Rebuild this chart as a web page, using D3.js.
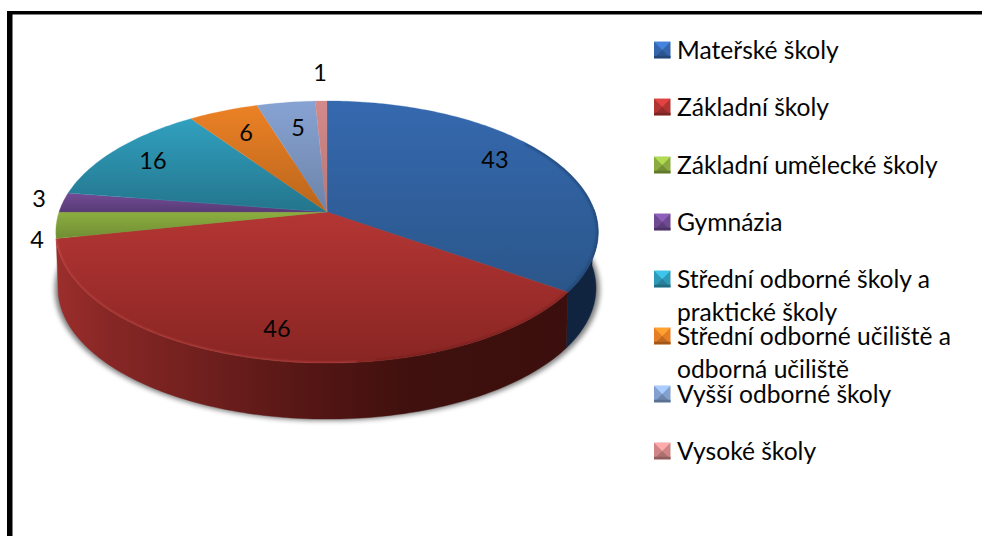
<!DOCTYPE html>
<html><head><meta charset="utf-8">
<script src="https://cdn.jsdelivr.net/npm/d3@7"></script>
<style>html,body{margin:0;padding:0;background:#fff;overflow:hidden}svg{display:block}
text{font-family:Lato,"Noto Sans",sans-serif;fill:#050505}</style></head>
<body><svg id="c" width="982" height="536"></svg>
<script>
const categories=["Mateřské školy","Základní školy","Základní umělecké školy","Gymnázia","Střední odborné školy a praktické školy","Střední odborné učiliště a odborná učiliště","Vyšší odborné školy","Vysoké školy"];
const values=[43,46,4,3,16,6,5,1];
const legendLines=[["Mateřské školy"],["Základní školy"],["Základní umělecké školy"],["Gymnázia"],["Střední odborné školy a","praktické školy"],["Střední odborné učiliště a","odborná učiliště"],["Vyšší odborné školy"],["Vysoké školy"]];
const colours=["#3566ac","#b13432","#8aab3f","#6f4a92","#2f9ab8","#e67e25","#84a0cf","#cf8585"];

const W=982,H=536;
const svg=d3.select("#c");
const defs=svg.append("defs");
// frame
svg.append("rect").attr("x",7).attr("y",11).attr("width",W).attr("height",3.5).attr("fill","#000");
svg.append("rect").attr("x",7).attr("y",11).attr("width",5.5).attr("height",H).attr("fill","#000");

// perspective disc
const cx=327,cy=212,a=268,b=128,k=-0.153,depth=56;
function proj(t,r=1){const u=r*Math.sin(t),v=-r*Math.cos(t),w=1+k*v;return [cx+a*u/w,cy+b*v/w];}
const arcs=d3.pie().sort(null).value(d=>d)(values);
const step=Math.PI/180;
function rim(s,e){const n=Math.max(2,Math.ceil((e-s)/step));return d3.range(n+1).map(i=>proj(s+(e-s)*i/n));}
const line=d3.line();

// shadow of the body
defs.append("filter").attr("id","sh").attr("x","-10%").attr("y","-10%").attr("width","120%").attr("height","120%")
 .append("feGaussianBlur").attr("stdDeviation",2.5);
const all=rim(0,2*Math.PI);
svg.append("path").attr("d",line(all.map(p=>[p[0]+(p[0]<cx?-1:1.5),p[1]+depth+1.5]))+"Z").attr("fill","#000").attr("opacity",.5).attr("filter","url(#sh)");

// side walls
function wallGrad(id,stops,x1,x2){
 const g=defs.append("linearGradient").attr("id",id).attr("gradientUnits","userSpaceOnUse").attr("x1",x1).attr("x2",x2).attr("y1",0).attr("y2",0);
 stops.forEach(s=>g.append("stop").attr("offset",s[0]).attr("stop-color",s[1]));
}
wallGrad("wRed",[[0,"#9b2e2c"],[.1,"#872725"],[.3,"#6e1f1d"],[.5,"#541614"],[.7,"#3f100e"],[1,"#3b0f0d"]],57,566);
wallGrad("wBlue",[[0,"#10233f"],[.8,"#10233f"],[1,"#152a4a"]],563,599);
function wall(s,e,fill){
 const top=rim(s,e),bot=top.slice().reverse().map(p=>[cx+(p[0]-cx)*.992,p[1]+depth]);
 svg.append("path").attr("d",line(top.concat(bot))+"Z").attr("fill",fill).attr("stroke",fill).attr("stroke-width",.4);
}
wall(arcs[0].startAngle+Math.PI/2-0.02,arcs[0].endAngle,"url(#wBlue)");
wall(arcs[1].startAngle,arcs[1].endAngle,"url(#wRed)");

// top face
const faceStops=[
 ["#3569af","#2a5588"],["#b43634","#882523"],["#8cae40","#6f8c33"],["#734c97","#583a75"],
 ["#31a0bf","#23758c"],["#ec8125","#b9651c"],["#87a3d3","#6d84a8"],["#d38a8a","#b87575"]];
const faceY=[[101,300],[212,363],[212,240],[193,212],[119,212],[105,212],[101,212],[101,212]];
arcs.forEach((d,i)=>{
 const g=defs.append("linearGradient").attr("id","f"+i).attr("gradientUnits","userSpaceOnUse").attr("x1",0).attr("x2",0).attr("y1",faceY[i][0]).attr("y2",faceY[i][1]);
 g.append("stop").attr("offset",0).attr("stop-color",faceStops[i][0]);
 g.append("stop").attr("offset",1).attr("stop-color",faceStops[i][1]);
 svg.append("path").attr("d",line([[cx,cy]].concat(rim(d.startAngle,d.endAngle)))+"Z")
  .attr("fill",`url(#f${i})`).attr("stroke",faceStops[i][0]).attr("stroke-width",.3);
});
// rim bevel
defs.append("filter").attr("id","bl").append("feGaussianBlur").attr("stdDeviation",1);
const clip=defs.append("clipPath").attr("id","fc");
clip.append("path").attr("d",line(all)+"Z");
const bevel=svg.append("g").attr("clip-path","url(#fc)");
bevel.append("path").attr("d",line(rim(Math.PI*.3,arcs[0].endAngle)))
 .attr("fill","none").attr("stroke","#1c3d66").attr("stroke-width",4).attr("opacity",.55).attr("filter","url(#bl)");
bevel.append("path").attr("d",line(rim(arcs[1].startAngle,Math.PI*.95)))
 .attr("fill","none").attr("stroke","#5a1614").attr("stroke-width",3).attr("opacity",.35).attr("filter","url(#bl)");
bevel.append("path").attr("d",line(rim(Math.PI*.97,arcs[1].endAngle)))
 .attr("fill","none").attr("stroke","#d9605b").attr("stroke-width",2).attr("opacity",.5).attr("filter","url(#bl)");

// data labels
const labelAt=[[495,160],[277,329],[37,240],[39,199],[153,161],[246,133],[298,128],[320,73]];
svg.append("g").selectAll("text").data(values).join("text")
 .attr("x",(d,i)=>labelAt[i][0]).attr("y",(d,i)=>labelAt[i][1]).attr("dy","0.35em")
 .attr("text-anchor","middle").attr("font-size",23.5).text(d=>d);

// legend
const legendY=d3.scalePoint().domain(d3.range(categories.length)).range([50,451]);
const mk=16.5,mx=654;
const leg=svg.append("g").selectAll("g").data(categories).join("g")
 .attr("transform",(d,i)=>`translate(${mx},${Math.round(legendY(i))})`);
leg.each(function(d,i){
 const g=d3.select(this),c=d3.color(colours[i]),h=mk/2;
 g.append("rect").attr("x",0).attr("y",-h).attr("width",mk).attr("height",mk).attr("fill",c);
 g.append("path").attr("d",`M0,${-h}H${mk}L${h},0Z`).attr("fill",c.brighter(.7));
 g.append("path").attr("d",`M0,${h}H${mk}L${h},0Z`).attr("fill",c.darker(.5));
 g.append("rect").attr("x",0).attr("y",h-2.5).attr("width",mk).attr("height",2.5).attr("fill",c.darker(1));
 legendLines[i].forEach((t,j)=>g.append("text").attr("x",23).attr("y",j*33).attr("dy","0.35em").attr("font-size",24.6).text(t));
});
</script></body></html>
